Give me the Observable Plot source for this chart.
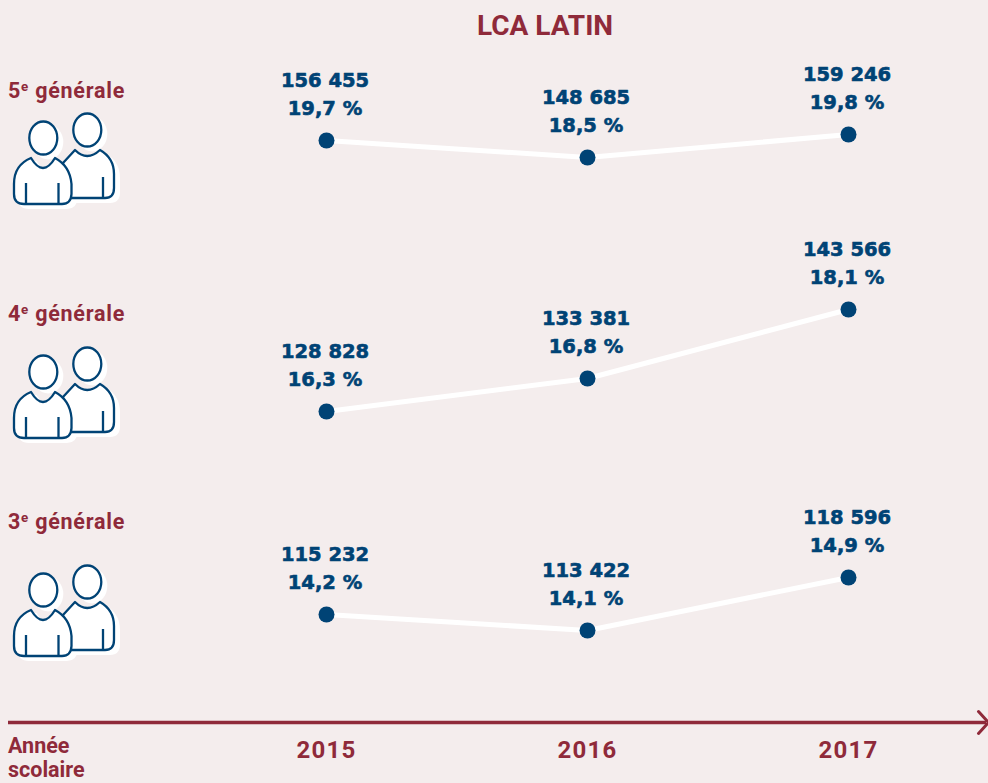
<!DOCTYPE html>
<html lang="fr"><head><meta charset="utf-8">
<script src="https://cdn.jsdelivr.net/npm/d3@7"></script>
<script src="https://cdn.jsdelivr.net/npm/@observablehq/plot@0.6"></script>
<style>
html,body{margin:0;padding:0;background:#f4eded;overflow:hidden}
#page{position:relative;width:988px;height:783px;background:#f4eded;overflow:hidden}
#page svg{position:absolute;left:0;background:transparent}
.t{position:absolute;font-family:Roboto,sans-serif;font-weight:700;color:#8f2a3a;white-space:nowrap}
.t sup{font-size:.62em;line-height:0;vertical-align:.5em}
</style></head><body><div id="page"></div>
<script>
const years = [2015, 2016, 2017];
const rowNames = ["5", "4", "3"];
const counts5 = [156455, 148685, 159246];
const counts4 = [128828, 133381, 143566];
const counts3 = [115232, 113422, 118596];
const pct5 = ["19,7 %", "18,5 %", "19,8 %"];
const pct4 = ["16,3 %", "16,8 %", "18,1 %"];
const pct3 = ["14,2 %", "14,1 %", "14,9 %"];
const NAVY = "#004375", RED = "#8f2a3a";
const numFont = "'DejaVu Sans',sans-serif";
const page = document.getElementById("page");
const fmt = v => String(v).replace(/\B(?=(\d{3})+$)/g, " ");
const xScale = {domain: [2015, 2017], range: [326, 848]};

function panel(top, height, counts, pcts, yDomain, yRange) {
  const rows = years.map((year, i) => ({year, count: counts[i], pct: pcts[i]}));
  const warp = d3.scaleLinear().domain(yDomain).range(yRange);
  const textOpts = {x: "year", y: "count", fill: NAVY, stroke: NAVY, strokeWidth: 0.6, dx: -1.5,
    fontFamily: numFont, fontWeight: 700, fontSize: 19.5, textAnchor: "middle"};
  const p = Plot.plot({
    width: 988, height, margin: 0,
    style: {background: "transparent", overflow: "visible"},
    x: {...xScale, axis: null},
    y: {transform: warp, domain: [0, height], range: [0, height], axis: null},
    marks: [
      Plot.line(rows, {x: "year", y: "count", stroke: "#fff", strokeWidth: 5, curve: "linear"}),
      Plot.dot(rows, {x: "year", y: "count", r: 8, fill: NAVY, stroke: "none"}),
      Plot.text(rows, {...textOpts, text: d => fmt(d.count), dy: -60}),
      Plot.text(rows, {...textOpts, text: "pct", dy: -32})
    ]
  });
  p.style.top = top + "px";
  page.appendChild(p);
}
panel(0, 235, counts5, pct5, [148685, 156455, 159246], [157, 140, 134]);
panel(235, 235, counts4, pct4, [128828, 133381, 143566], [176, 143, 74]);
panel(470, 230, counts3, pct3, [113422, 115232, 118596], [160, 144, 107]);

// bottom axis
const axisPlot = Plot.plot({
  width: 988, height: 83, margin: 0,
  style: {background: "transparent"},
  x: {...xScale, axis: null},
  y: {domain: [0, 83], range: [0, 83], axis: null},
  marks: [
    Plot.axisX(years, {anchor: "top", ticks: years, tickFormat: d => String(d), tickSize: 0, tickPadding: 0,
      dy: 50, fill: RED, stroke: RED, strokeWidth: 0.4, fontFamily: "Roboto,sans-serif", fontWeight: 700, fontSize: 24, label: null, lineAnchor: "middle"})
  ]
});
axisPlot.style.top = "700px";
axisPlot.querySelectorAll("text").forEach(t => t.setAttribute("letter-spacing", "1.2"));
page.appendChild(axisPlot);

const arrowPlot = Plot.plot({
  width: 988, height: 40, margin: 0,
  style: {background: "transparent"},
  x: {domain: [0, 988], range: [0, 988], axis: null},
  y: {domain: [0, 40], range: [0, 40], axis: null},
  marks: [
    Plot.ruleY([20], {x1: 8, x2: 986, stroke: RED, strokeWidth: 3.5}),
    Plot.line([[978, 9], [988, 20], [978, 31]], {stroke: RED, strokeWidth: 3, curve: "linear"})
  ]
});
arrowPlot.style.top = "702px";
page.appendChild(arrowPlot);

// text
function label(html, left, top, size, lh, ls) {
  const d = document.createElement("div");
  d.className = "t"; d.innerHTML = html;
  d.style.left = left + "px"; d.style.top = top + "px"; d.style.fontSize = size + "px";
  d.style.lineHeight = (lh || size * 1.2) + "px";
  if (ls) d.style.letterSpacing = ls + "px";
  page.appendChild(d);
  return d;
}
const title = label("LCA LATIN", 545, 9, 28);
title.style.transform = "translateX(-50%)";
label(rowNames[0] + "<sup>e</sup> générale", 8, 78, 21.5, 0, 0.75);
label(rowNames[1] + "<sup>e</sup> générale", 8, 301, 21.5, 0, 0.75);
label(rowNames[2] + "<sup>e</sup> générale", 8, 509, 21.5, 0, 0.75);
label("Année<br>scolaire", 8, 733.5, 21.5, 24.5);

// people pictogram
const body =
  `<ellipse cx="87.3" cy="130" rx="14" ry="16.5"/>
   <path d="M63 163 L75 150 Q87 162 100 150 Q114 158 114 174 L114 188 Q114 198 105 198 L70 198 Z"/>`;
const front =
  `<ellipse cx="43.3" cy="138" rx="14" ry="16.5"/>
   <path d="M31 158 Q14 165 14 184 L14 194 Q14 204 24 204 L62 204 Q71 204 71.5 194 L71.5 184 Q70 166 55 158 Q43 178 31 158 Z"/>`;
const lines = `<path fill="none" d="M26 183 V204 M58.5 183 V204 M103 177 V198"/>`;
function icon(shift) {
  const s = document.createElementNS("http://www.w3.org/2000/svg", "svg");
  s.setAttribute("width", 988); s.setAttribute("height", 783);
  s.style.top = "0";
  s.innerHTML = `<g transform="translate(0,${shift})">
    <g transform="translate(5,4)" fill="#fff" stroke="#fff" stroke-width="2">${body}${front}</g>
    <g fill="#fff" stroke="${NAVY}" stroke-width="2.3" stroke-linejoin="round">${body}${front}${lines}</g></g>`;
  page.appendChild(s);
}
[0, 234, 452].forEach(icon);
</script></body></html>
